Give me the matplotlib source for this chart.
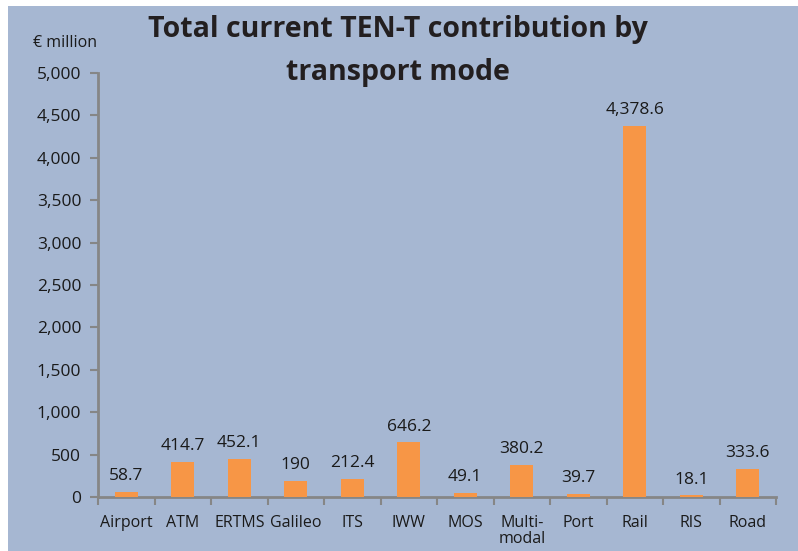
import matplotlib.pyplot as plt
import numpy as np
from matplotlib.patches import Rectangle
from matplotlib.ticker import FuncFormatter

# TEN-T contribution by transport mode, € million
modes = ["Airport", "ATM", "ERTMS", "Galileo", "ITS", "IWW", "MOS",
         "Multi-\nmodal", "Port", "Rail", "RIS", "Road"]
values = [58.7, 414.7, 452.1, 190, 212.4, 646.2, 49.1, 380.2, 39.7, 4378.6, 18.1, 333.6]
labels = ["58.7", "414.7", "452.1", "190", "212.4", "646.2", "49.1",
          "380.2", "39.7", "4,378.6", "18.1", "333.6"]

W, H = 798, 551
bg = "#a6b7d2"
orange = "#f79646"
grey = "#868686"
ink = "#1a1a1a"

plt.rcParams['font.family'] = ['Open Sans', 'DejaVu Sans']

fig = plt.figure(figsize=(W / 100, H / 100), dpi=100, facecolor="white")
# blue panel behind everything
fig.patches.append(Rectangle((8 / W, 0), 1 - 8 / W, 1 - 6 / H, transform=fig.transFigure,
                             facecolor=bg, edgecolor="none", zorder=-5))

ax = fig.add_axes([98 / W, (H - 497) / H, (776 - 98) / W, (497 - 73) / H])
ax.set_facecolor("none")

x = np.arange(len(modes))
ax.bar(x, values, width=0.41, color=orange, zorder=3)
for xi, v, lab in zip(x, values, labels):
    ax.text(xi, v + 90, lab, ha="center", va="bottom", fontsize=12.5, color=ink)

ax.set_xlim(-0.5, len(modes) - 0.5)
ax.set_ylim(0, 5000)
ax.set_yticks(np.arange(0, 5001, 500))
ax.yaxis.set_major_formatter(FuncFormatter(lambda v, p: f"{int(v):,}"))
ax.set_xticks(x)
ax.set_xticklabels(modes, fontsize=11.5, color=ink, linespacing=1.0)
ax.set_xticks(np.arange(-0.5, len(modes), 1), minor=True)
ax.tick_params(axis="x", which="major", length=0, pad=13)
ax.tick_params(axis="x", which="minor", length=6, width=1.5, color=grey, direction="out")
ax.tick_params(axis="y", length=6, width=1.5, color=grey, labelsize=12.5, labelcolor=ink, pad=6)

for s in ["top", "right"]:
    ax.spines[s].set_visible(False)
for s in ["left", "bottom"]:
    ax.spines[s].set_color(grey)
    ax.spines[s].set_linewidth(2)

fig.text(398 / W, 1 - 51 / H, "Total current TEN-T contribution by\ntransport mode",
         ha="center", va="center", fontsize=20.5, fontweight="bold", color="#231f20",
         linespacing=1.6)
fig.text(65 / W, 1 - 43 / H, "€ million", ha="center", va="center", fontsize=11.5, color=ink)

fig.savefig("out.png", dpi=100, facecolor="white")
